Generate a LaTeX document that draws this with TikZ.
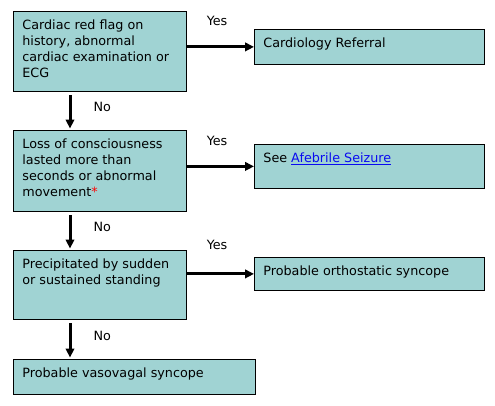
\documentclass[tikz,border=0pt]{standalone}
\usepackage{fontspec}
\setmainfont{DejaVu Sans}
\usetikzlibrary{arrows.meta}
\definecolor{flowfill}{RGB}{160,211,211}
\definecolor{linkblue}{RGB}{10,10,240}
\newcommand{\boxtext}[3]{\parbox[c][#2][t]{#1}{#3}}

\begin{document}
\begin{tikzpicture}[x=1bp,y=-1bp,>={Triangle[length=9bp,width=8.5bp]},
    flow/.style={draw,fill=flowfill,line width=0.8bp,anchor=north west,inner xsep=9bp,inner ysep=8.5bp,font=\fontsize{12.8}{16}\selectfont},
    ans/.style={font=\fontsize{12.8}{15}\selectfont,inner sep=0pt},
    go/.style={->,line width=3bp}]
    \useasboundingbox (0,0) rectangle (495,405);
    \node[flow](red) at (13,11){\boxtext{155bp}{63bp}{Cardiac red flag on\\history, abnormal\\cardiac examination or\\ECG}};
    \node[flow](loc) at (13,130){\boxtext{155bp}{64bp}{Loss of consciousness\\lasted more than\\seconds or abnormal\\movement\textcolor{red}{*}}};
    \node[flow](stand) at (13,250){\boxtext{155bp}{52bp}{Precipitated by sudden\\or sustained standing}};
    \node[flow](vaso) at (13,359){\boxtext{224bp}{18bp}{Probable vasovagal syncope}};
    \node[flow](cardio) at (254,29){\boxtext{212bp}{18bp}{Cardiology Referral}};
    \node[flow](seize) at (254,144){\boxtext{212bp}{27bp}{See \textcolor{linkblue}{\underline{Afebrile Seizure}}}};
    \node[flow](ortho) at (254,257){\boxtext{212bp}{16bp}{Probable orthostatic syncope}};

    \draw[go](red.east |- cardio.west)--node[ans,pos=.45,above=20bp]{Yes}(cardio.west);
    \draw[go](loc.east |- seize.west)--node[ans,pos=.45,above=19bp]{Yes}(seize.west);
    \draw[go](stand.east |- ortho.west)--node[ans,pos=.45,above=23bp]{Yes}(ortho.west);
    \draw[go,shorten <=3.5bp,shorten >=1.5bp]([xshift=57bp]red.south west)--node[ans,pos=.4,right=22bp]{No}([xshift=57bp]loc.north west);
    \draw[go,shorten <=3.5bp,shorten >=1.5bp]([xshift=57bp]loc.south west)--node[ans,pos=.4,right=22bp]{No}([xshift=57bp]stand.north west);
    \draw[go,shorten <=3.5bp,shorten >=1.5bp]([xshift=57bp]stand.south west)--node[ans,pos=.4,right=22bp]{No}([xshift=57bp]vaso.north west);
\end{tikzpicture}
\end{document}
